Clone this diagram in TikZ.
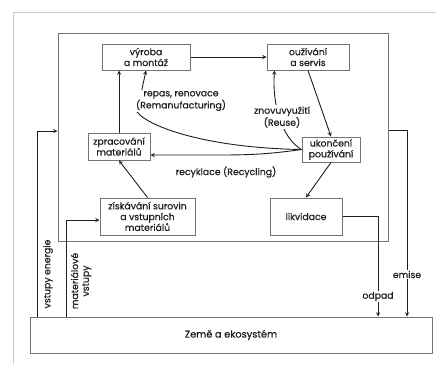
\documentclass[tikz,border=0pt]{standalone}
\usepackage{fontspec}
\setmainfont{Poppins}[FakeBold=0.5]
\definecolor{Frame}{rgb}{0.8,0.8,0.8}
\definecolor{Edge}{rgb}{0.45,0.45,0.45}
\definecolor{Ink}{rgb}{0.12,0.12,0.12}
\usetikzlibrary{arrows,calc,positioning}

\begin{document}
\begin{tikzpicture}[x=1pt,y=-1pt,>=stealth,
  box/.style={draw=Edge, line width=1pt, fill=white, text=Ink, align=center, inner sep=0pt, font=\fontsize{9.3}{10.8}\selectfont},
  flow/.style={->, Ink, line width=0.9pt},
  lbl/.style={fill=white, text=Ink, align=center, inner sep=1pt, font=\fontsize{9.3}{10.8}\selectfont}]
\useasboundingbox (0,0) rectangle (436,364);
%frame
\draw[Frame] (13,364) -- (13,12) -- (436,12);
%system
\node[box, minimum width=330pt, minimum height=208pt] (system) at (223,137) {};
\node[box, minimum width=88pt, minimum height=26pt] (vyroba) at (146,57) {výroba\\a montáž};
\node[box, minimum width=82pt, minimum height=26pt] (servis) at (308,57) {oužívání\\a servis};
\node[box, minimum width=62pt, minimum height=27pt] (zprac) at (119,146.5) {zpracování\\materiálů};
\node[box, minimum width=58pt, minimum height=25pt] (ukonc) at (331,149.5) {ukončení\\používání};
\node[box, minimum width=95pt, minimum height=37pt] (ziskav) at (147.5,216.5) {získávání surovin\\a vstupních\\materiálů};
\node[box, minimum width=72pt, minimum height=37pt] (likv) at (306,216.5) {likvidace};
%earth
\node[box, minimum width=402pt, minimum height=36pt, font=\fontsize{9.8}{12}\selectfont] (zeme) at (231,335) {Země a ekosystém};
%cycle
\draw[flow] (vyroba) -- (servis);
\draw[flow] (zprac.north) -- (zprac.north |- vyroba.south);
\draw[flow] (servis.south) -- (ukonc.north);
\draw[flow] (ukonc.south) -- (likv.north);
\draw[flow] (ziskav.north) -- (zprac.south);
\draw[flow] (ukonc.west) .. controls (282,138) and (272,105) .. ([xshift=8pt]servis.south west);
\node[lbl] (reuse) at (282,117) {znovuvyužití\\(Reuse)};
\draw[flow] (ukonc.west) .. controls (210,148) and (150,128) .. (137,112) -- (vyroba.south);
\node[lbl] (reman) at (181,101) {repas, renovace\\(Remanufacturing)};
\coordinate (rec) at (220,155);
\draw[flow] (ukonc.west) to[out=188,in=0] (rec) -- (rec -| zprac.east);
\node[lbl, fill=none] (recl) at (226,172) {recyklace (Recycling)};
%inputs
\coordinate (ein) at (37,131);
\coordinate (min) at (66,220);
\draw[flow] (zeme.north -| ein) -- (ein) -- (ein -| system.west);
\draw[flow] (zeme.north -| min) -- (min) -- (min -| ziskav.west);
\node[lbl, fill=none, rotate=90] (energ) at (48,274) {vstupy energie};
\node[lbl, fill=none, rotate=90] (mater) at (81,281) {materiálové\\vstupy};
%outputs
\coordinate (wout) at (378,217);
\coordinate (eout) at (407,130);
\draw[flow] (likv.east) -- (likv.east -| wout) -- (wout |- zeme.north) node[lbl, pos=0.8] (odpad) {odpad};
\draw[flow] (eout -| system.east) -- (eout) -- (eout |- zeme.north) node[lbl, pos=0.775] (emise) {emise};
\end{tikzpicture}
\end{document}
